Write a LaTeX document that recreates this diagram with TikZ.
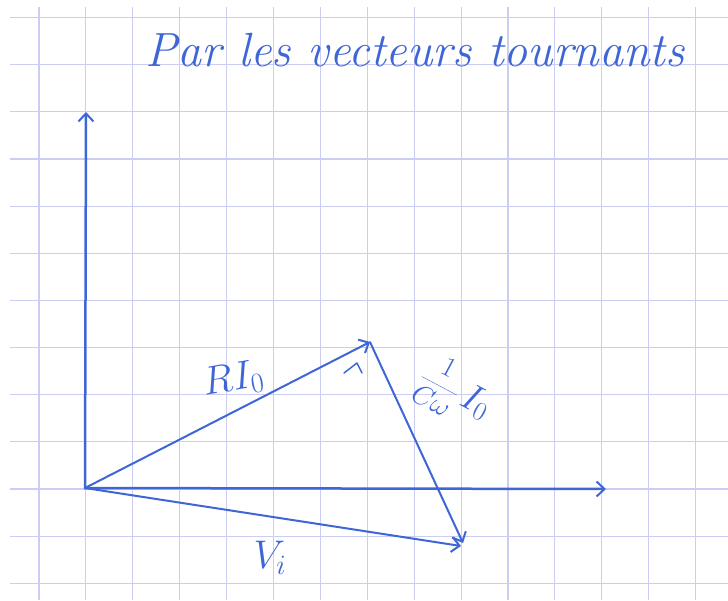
\RequirePackage{fix-cm}
\documentclass[tikz,border=0pt]{standalone}
\usetikzlibrary{arrows.meta}
\definecolor{inkblue}{HTML}{3F66D6}
\definecolor{gridc}{HTML}{CBCDF2}
\begin{document}
\begin{tikzpicture}[x=1pt,y=-1pt,
  ink/.style={draw=inkblue, line width=2pt, line cap=round, line join=round},
  vec/.style={ink, -{Straight Barb[length=8pt,width=15pt,line width=2pt]}},
  axis/.style={vec, line width=2.5pt},
  gridline/.style={draw=gridc, line width=1.1pt},
  lab/.style={text=inkblue, inner sep=0pt}]
\useasboundingbox (0,0) rectangle (728,600);
\fill[white] (0,0) rectangle (728,600);
\foreach \i in {0,...,14} \draw[gridline] ({39+46.9*\i},7) -- ({39+46.9*\i},600);
\foreach \j in {0,...,12} \draw[gridline] (10,{17.5+47.15*\j}) -- (728,{17.5+47.15*\j});
% title
\node[lab, font=\fontsize{48}{54}\selectfont\itshape] (title) at (415,50) {Par les vecteurs tournants};
% points
\coordinate (O) at (85,488);
\coordinate (Y) at (86,112);
\coordinate (X) at (606,489);
\coordinate (A) at (370,342);
\coordinate (B) at (463,543);
\coordinate (V) at (461,546);
% axes
\draw[axis] (O) -- (Y);
\draw[axis] (O) -- (X);
% vectors
\draw[vec] (O) -- (A);
\draw[vec] (A) -- (B);
\draw[vec] (O) -- (V);
% right-angle mark
\draw[ink, line width=1.5pt] (344,373) -- (357,363) -- (362,373);
% labels
\node[lab, rotate=10, font=\fontsize{40}{46}\selectfont] (ri) at (233,380) {$R I_0$};
\node[lab, rotate=-28, font=\fontsize{28}{34}\selectfont] (ci) at (455,392) {$\displaystyle\frac{1}{C\omega}$\,{\fontsize{38}{44}\selectfont$I_0$}};
\node[lab, font=\fontsize{40}{46}\selectfont] (vi) at (270,558) {$V_i$};
\end{tikzpicture}
\end{document}
